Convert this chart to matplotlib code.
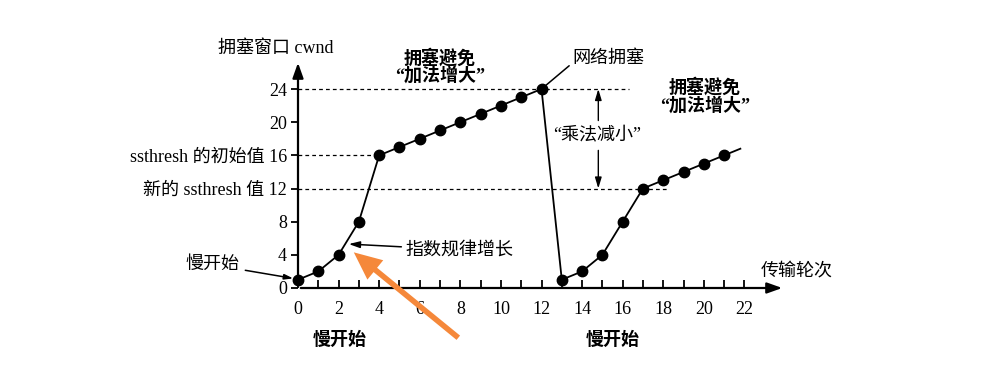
import matplotlib

matplotlib.use("Agg")

import matplotlib.pyplot as plt
import numpy as np

plt.rcParams["font.family"] = ["Liberation Serif", "Noto Sans CJK SC"]
plt.rcParams["font.size"] = 13

# transmission rounds and congestion window
rounds = list(range(0, 22))
cwnd = [1, 2, 4, 8, 16, 17, 18, 19, 20, 21, 22, 23, 24,
        1, 2, 4, 8, 12, 13, 14, 15, 16]

y_ticks = [0, 4, 8, 12, 16, 20, 24]
y_labels = ["0", "4", "8", "新的 ssthresh 值 12", "ssthresh 的初始值 16", "20", "24"]
x_ticks = list(range(0, 23, 2))
x_labels = [str(t) for t in x_ticks]

ssthresh_init = 16
ssthresh_new = 12
peak = 24

fig = plt.figure(figsize=(9.82, 3.69), dpi=100)
ax = fig.add_axes([298 / 982, 81 / 369, 487 / 982, 228 / 369])
ax.set_xlim(0, 24.0)
ax.set_ylim(0, 27.5)

for side in ("top", "right", "left", "bottom"):
    ax.spines[side].set_visible(False)

# axes with arrows
ax.annotate("", xy=(1, 0), xytext=(0, 0), xycoords="axes fraction",
            arrowprops=dict(arrowstyle="-|>,head_length=0.7,head_width=0.25", lw=1.6, color="black"))
ax.annotate("", xy=(0, 1), xytext=(0, 0), xycoords="axes fraction",
            arrowprops=dict(arrowstyle="-|>,head_length=0.7,head_width=0.25", lw=1.6, color="black"))

ax.set_xticks(x_ticks)
ax.set_xticklabels(x_labels)
ax.set_xticks(range(0, 23), minor=True)
ax.tick_params(axis="x", which="both", direction="in", length=6, width=1.3, pad=9)
ax.set_yticks(y_ticks)
ax.set_yticklabels(y_labels)
ax.tick_params(axis="y", direction="out", length=5, width=1.3, pad=3)

# threshold guide lines
dash = (0, (3, 2.5))
ax.plot([0, 16.3], [peak, peak], color="black", lw=0.9, ls=dash)
ax.plot([0, 4], [ssthresh_init, ssthresh_init], color="black", lw=0.9, ls=dash)
ax.plot([0, 18.2], [ssthresh_new, ssthresh_new], color="black", lw=0.9, ls=dash)

# cwnd curve
ax.plot(rounds, cwnd, color="black", lw=1.3, marker="o", markersize=7.5, clip_on=False, zorder=3)
x_end = rounds[-1] + 0.8 * (rounds[-1] - rounds[-2])
y_end = cwnd[-1] + 0.8 * (cwnd[-1] - cwnd[-2])
ax.plot([rounds[-1], x_end], [cwnd[-1], y_end], color="black", lw=1.3)

# annotations
ax.text(-1.1, 28.9, "拥塞窗口 cwnd", ha="center", va="center", clip_on=False)
ax.text(22.8, 1.9, "传输轮次", ha="left", va="center", clip_on=False)

ax.annotate("网络拥塞", xy=(12, 24), xytext=(13.5, 27.7), ha="left", va="center",
            annotation_clip=False,
            arrowprops=dict(arrowstyle="-", lw=1.1, color="black", shrinkA=0, shrinkB=0,
                            relpos=(0, 0.2)))

ax.text(7.0, 26.7, "拥塞避免\n“加法增大”", ha="center", va="center", fontweight="bold",
        linespacing=1.0, clip_on=False)
ax.text(20.05, 23.1, "拥塞避免\n“加法增大”", ha="center", va="center", fontweight="bold",
        linespacing=1.0, clip_on=False)

ax.text(14.75, 18.4, "“乘法减小”", ha="center", va="center")
ax.annotate("", xy=(14.8, peak), xytext=(14.8, 20.2),
            arrowprops=dict(arrowstyle="-|>,head_length=0.5,head_width=0.15", lw=1.0,
                            color="black", shrinkA=0, shrinkB=0))
ax.annotate("", xy=(14.8, ssthresh_new), xytext=(14.8, 16.6),
            arrowprops=dict(arrowstyle="-|>,head_length=0.5,head_width=0.15", lw=1.0,
                            color="black", shrinkA=0, shrinkB=0))

ax.annotate("指数规律增长", xy=(2.5, 5.3), xytext=(5.3, 4.6), ha="left", va="center",
            annotation_clip=False,
            arrowprops=dict(arrowstyle="-|>,head_length=0.5,head_width=0.15", lw=1.1,
                            color="black", shrinkA=1, shrinkB=0))
ax.annotate("慢开始", xy=(-0.1, 1.1), xytext=(-4.2, 2.8), ha="center", va="center",
            annotation_clip=False,
            arrowprops=dict(arrowstyle="-|>,head_length=0.4,head_width=0.12", lw=1.1,
                            color="black", shrinkA=2, shrinkB=2))

ax.text(2.05, -6.3, "慢开始", ha="center", va="center", fontweight="bold", clip_on=False)
ax.text(15.5, -6.3, "慢开始", ha="center", va="center", fontweight="bold", clip_on=False)

# orange highlight arrow
ax.annotate("", xy=(2.75, 4.3), xytext=(7.9, -6.0), annotation_clip=False,
            arrowprops=dict(arrowstyle="simple,head_length=1.0,head_width=0.9,tail_width=0.2",
                            mutation_scale=20, lw=0, color="#F5883A",
                            shrinkA=0, shrinkB=0))

fig.savefig("out.png", dpi=100)
